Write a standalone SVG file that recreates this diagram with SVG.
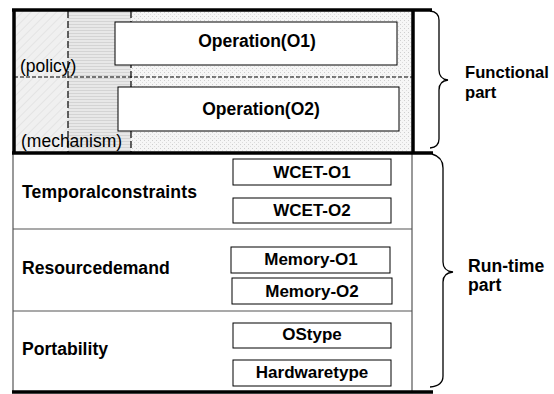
<svg xmlns="http://www.w3.org/2000/svg" width="554" height="394" viewBox="0 0 554 394">
<style>
text{font-family:"Liberation Sans",Arial,sans-serif;font-weight:bold;fill:#000}
.lbl{font-size:17.6px}
.side{font-size:16.6px}
.op{font-size:17px;text-anchor:middle}
.big{font-size:17.5px;text-anchor:middle}
.box{fill:#fff;stroke:#000;stroke-width:1}
.thin{stroke:#555;stroke-width:1.2;fill:none}
.thick{stroke:#000;stroke-width:3.5;fill:none}
.dash{stroke:#000;stroke-width:1.2;stroke-dasharray:7 3;fill:none}
.hdash{stroke:#000;stroke-width:1.2;stroke-dasharray:4 2;fill:none}
.brace{stroke:#000;stroke-width:1.3;fill:none}
.plain{font-family:"Liberation Sans",Arial,sans-serif;font-weight:normal;font-size:17.5px}
</style>
<defs>
<pattern id="hatch" width="6" height="6" patternUnits="userSpaceOnUse" patternTransform="rotate(45)">
<rect width="6" height="6" fill="#f0f0f0"/>
<line x1="0" y1="0" x2="0" y2="6" stroke="#d8d8d8" stroke-width="1"/>
</pattern>
<pattern id="hlines" width="3" height="3" patternUnits="userSpaceOnUse">
<rect width="3" height="3" fill="#e8e8e8"/>
<rect x="0" y="0" width="3" height="1" fill="#d4d4d4"/>
</pattern>
<pattern id="dots" width="4" height="4" patternUnits="userSpaceOnUse">
<rect width="4" height="4" fill="#f6f6f6"/>
<rect x="0" y="0" width="1" height="1" fill="#cfcfcf"/>
<rect x="2" y="2" width="1" height="1" fill="#dcdcdc"/>
</pattern>
</defs>
<g id="functional-part">
<rect x="14" y="11" width="54" height="142" fill="url(#hatch)"/>
<rect x="68" y="11" width="63" height="142" fill="url(#hlines)"/>
<rect x="131" y="11" width="282" height="142" fill="url(#dots)"/>
<line class="dash" x1="68" y1="11" x2="68" y2="153"/>
<line class="dash" x1="131" y1="11" x2="131" y2="153"/>
<line class="hdash" x1="14" y1="77" x2="413" y2="77"/>
<text class="plain" x="20" y="72">(policy)</text>
<text class="plain" x="21" y="147">(mechanism)</text>
</g>
<g id="op1"><rect class="box" x="115" y="22" width="282" height="43"/><text class="big" x="257" y="47">Operation(O1)</text></g>
<g id="op2"><rect class="box" x="118" y="87" width="281" height="44"/><text class="big" x="261" y="115">Operation(O2)</text></g>
<g id="runtime-part">
<line class="thin" x1="13" y1="154" x2="13" y2="392"/>
<line class="thin" x1="412" y1="154" x2="412" y2="392"/>
<line class="thin" x1="13" y1="229" x2="412" y2="229"/>
<line class="thin" x1="13" y1="311" x2="412" y2="311"/>
</g>
<g id="temporal"><text class="lbl" x="22" y="198" textLength="175">Temporalconstraints</text></g>
<g id="wcet1"><rect class="box" x="233" y="159" width="158" height="26"/><text class="op" x="312" y="178">WCET-O1</text></g>
<g id="wcet2"><rect class="box" x="233" y="198" width="158" height="25"/><text class="op" x="312" y="216">WCET-O2</text></g>
<g id="resource"><text class="lbl" x="22" y="274">Resourcedemand</text></g>
<g id="mem1"><rect class="box" x="231" y="247" width="159" height="26"/><text class="op" x="311" y="265">Memory-O1</text></g>
<g id="mem2"><rect class="box" x="232" y="278" width="160" height="26"/><text class="op" x="312" y="297">Memory-O2</text></g>
<g id="portability"><text class="lbl" x="22" y="355">Portability</text></g>
<g id="ostype"><rect class="box" x="233" y="323" width="158" height="25"/><text class="op" x="312" y="340">OStype</text></g>
<g id="hwtype"><rect class="box" x="233" y="360" width="158" height="26"/><text class="op" x="312" y="378">Hardwaretype</text></g>
<g id="frame">
<line class="thick" x1="12" y1="10" x2="432" y2="10"/>
<line class="thick" x1="14" y1="10" x2="14" y2="154"/>
<line class="thick" x1="413" y1="10" x2="413" y2="154"/>
<line class="thick" x1="12" y1="153" x2="433" y2="153"/>
<line class="thick" x1="12" y1="392" x2="433" y2="392"/>
</g>
<g id="connectors">
<path class="brace" d="M430,11 Q439,12 439,20 L439,70 Q439,79 448,80 Q439,81 439,90 L439,139 Q439,147 430,148"/>
<path class="brace" d="M432,154 Q443,157 443,168 L443,262 Q443,271 453,272 Q443,273 443,282 L443,376 Q443,386 430,387"/>
</g>
<g id="functional-label"><text class="side" x="465" y="78">Functional</text><text class="side" x="465" y="98">part</text></g>
<g id="runtime-label"><text class="lbl" x="468" y="272">Run-time</text><text class="lbl" x="468" y="291">part</text></g>
</svg>
